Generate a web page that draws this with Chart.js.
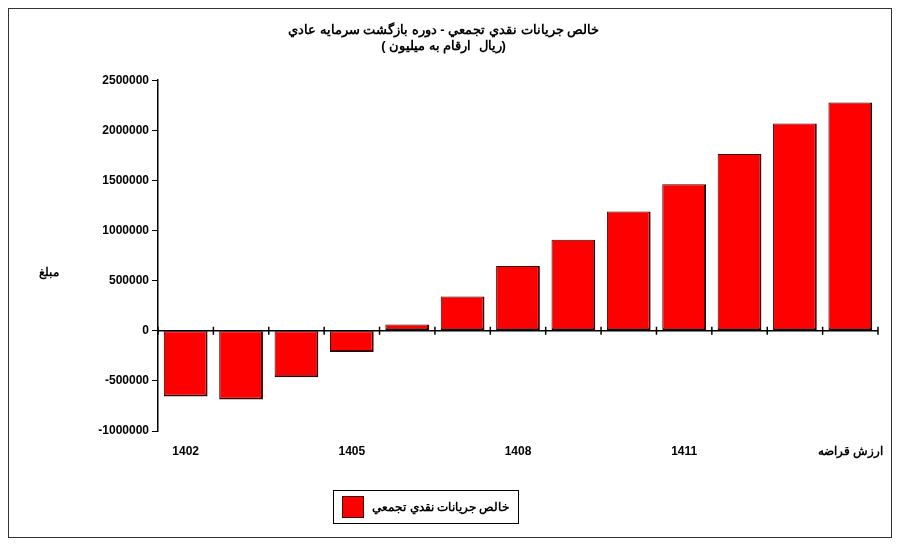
<!DOCTYPE html>
<html><head><meta charset="utf-8">
<script src="https://cdn.jsdelivr.net/npm/chart.js@4"></script>
<style>
body{margin:0;background:#fff;}
#wrap{position:absolute;left:8px;top:8px;width:884px;height:530px;border:1px solid #333;box-sizing:border-box;}
#leyenda{position:absolute;left:333px;top:490px;width:186px;height:34px;border:1px solid #000;box-sizing:border-box;
  font:bold 12px "Liberation Sans";display:flex;align-items:center;justify-content:center;gap:8px;}
#leyenda span.c{width:20px;height:20px;background:#ff0000;border:1px solid #3a0000;display:inline-block;}
</style></head><body>
<div id="wrap"><canvas id="grafica" width="882" height="528"></canvas></div>
<div id="leyenda"><span class="c"></span><span>خالص جريانات نقدي تجمعي</span></div>
<script>
const categorias = ["1402","1403","1404","1405","1406","1407","1408","1409","1410","1411","1412","1413","ارزش قراضه"];
const valores = [-655000,-685000,-463000,-212000,62000,343000,645000,907000,1190000,1462000,1764000,2067000,2278000];
const etiquetasVisibles = [0,3,6,9,12];

const marcas = {
  id: "marcas",
  afterDraw(chart) {
    const c = chart.ctx, x = chart.scales.x, y = chart.scales.y;
    const y0 = y.getPixelForValue(0);
    c.save();
    c.strokeStyle = "#000"; c.lineWidth = 1.5;
    c.beginPath(); c.moveTo(x.left, y0); c.lineTo(x.right, y0); c.stroke();
    const paso = x.getPixelForValue(1) - x.getPixelForValue(0);
    for (let i = 0; i <= categorias.length; i++) {
      const px = x.getPixelForValue(i) - paso / 2;
      c.beginPath(); c.moveTo(px, y0 - 4); c.lineTo(px, y0 + 4); c.stroke();
    }
    c.fillStyle = "#000"; c.font = "bold 12px 'Liberation Sans'"; c.textAlign = "center";
    c.fillText("مبلغ", 40, y.getPixelForValue(550000));
    c.restore();
  }
};

new Chart(document.getElementById("grafica").getContext("2d"), {
  type: "bar",
  data: {
    labels: categorias,
    datasets: [{
      label: "خالص جريانات نقدي تجمعي",
      data: valores,
      backgroundColor: "#ff0000",
      borderColor: "#3a0000",
      borderWidth: {top:1,left:1,right:2,bottom:2},
      borderSkipped: false,
      categoryPercentage: 1,
      barPercentage: 0.79
    }]
  },
  options: {
    responsive: false,
    animation: false,
    layout: { padding: { left: 0, right: 13, top: 0, bottom: 0 } },
    plugins: {
      title: {
        display: true,
        text: ["خالص جريانات نقدي تجمعي - دوره بازگشت سرمايه عادي", "( ريال  ارقام به ميليون)"],
        font: { family: "Liberation Sans", size: 13, weight: "bold" },
        color: "#000",
        padding: { top: 14, bottom: 26 }
      },
      legend: { display: false }
    },
    scales: {
      x: {
        grid: { display: false },
        border: { display: false },
        ticks: {
          autoSkip: false, maxRotation: 0, padding: 5,
          font: { family: "Liberation Sans", size: 12, weight: "bold" }, color: "#000",
          callback: (v, i) => etiquetasVisibles.includes(i) ? categorias[i] : ""
        },
        afterFit: s => { s.height = 106; }
      },
      y: {
        min: -1000000, max: 2500000,
        ticks: {
          stepSize: 500000,
          font: { family: "Liberation Sans", size: 12, weight: "bold" }, color: "#000",
          callback: v => String(v)
        },
        grid: { drawOnChartArea: false, drawTicks: true, tickLength: 6, color: "#000" },
        border: { color: "#000", width: 1.5 },
        afterFit: s => { s.width = 149; }
      }
    }
  },
  plugins: [marcas]
});
</script>
</body></html>
